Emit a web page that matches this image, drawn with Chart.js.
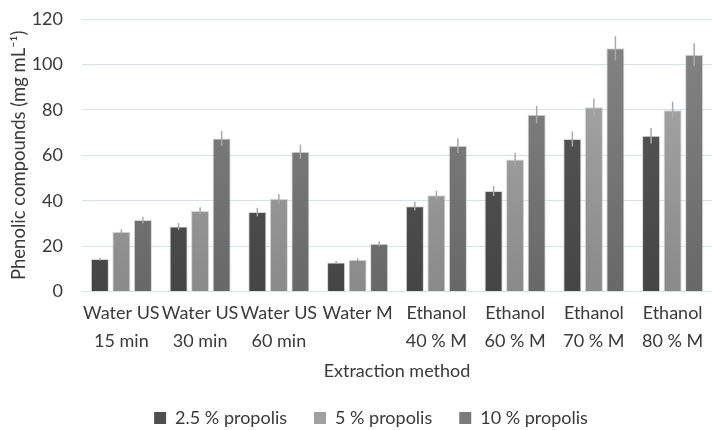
<!DOCTYPE html>
<html>
<head>
<meta charset="utf-8">
<script src="https://cdn.jsdelivr.net/npm/chart.js@4"></script>
<style>
  html, body { margin: 0; padding: 0; background: #fff; }
  #wrap { width: 712px; height: 430px; }
</style>
</head>
<body>
<div id="wrap"><canvas id="phenolChart"></canvas></div>
<script>
// values
const methods = [
  ['Water US', '15 min'], ['Water US', '30 min'], ['Water US', '60 min'], ['Water M'],
  ['Ethanol', '40 % M'], ['Ethanol', '60 % M'], ['Ethanol', '70 % M'], ['Ethanol', '80 % M']
];
const seriesNames = ['2.5 % propolis', '5 % propolis', '10 % propolis'];
const propolis25 = [14.3, 28.7, 35.0, 12.8, 37.6, 44.3, 67.2, 68.6];
const propolis5 = [26.4, 35.5, 40.9, 14.0, 42.4, 58.2, 81.1, 79.8];
const propolis10 = [31.5, 67.4, 61.6, 21.1, 64.2, 77.9, 107.1, 104.3];
const err25 = [0.6, 1.5, 1.9, 0.7, 1.9, 2.2, 3.3, 3.4];
const err5 = [1.1, 1.6, 2.1, 0.7, 2.1, 2.9, 3.8, 3.8];
const err10 = [1.5, 3.2, 3.1, 1.1, 3.2, 3.8, 5.3, 5.0];
const yTicks = [0, 20, 40, 60, 80, 100, 120];

const FONT = 'Lato, "Open Sans", sans-serif';
const TEXT = '#3a3a3a';

// vertical gradient like the office-style bars
function shade(top, bottom) {
  return ctx => {
    const area = ctx.chart.chartArea;
    if (!area) return bottom;
    const g = ctx.chart.ctx.createLinearGradient(0, area.top, 0, area.bottom);
    g.addColorStop(0, top);
    g.addColorStop(1, bottom);
    return g;
  };
}

const errorBars = {
  id: 'errorBars',
  afterDatasetsDraw(chart) {
    const c = chart.ctx;
    const y = chart.scales.y;
    c.save();
    c.strokeStyle = '#a9a9a9';
    c.lineWidth = 1.5;
    chart.data.datasets.forEach((ds, i) => {
      const meta = chart.getDatasetMeta(i);
      meta.data.forEach((bar, j) => {
        const v = ds.data[j], e = ds.errors[j];
        c.beginPath();
        c.moveTo(bar.x, y.getPixelForValue(v - e));
        c.lineTo(bar.x, y.getPixelForValue(v + e));
        c.stroke();
      });
    });
    c.restore();
  }
};

// legend sits a little right of the canvas centre in the original
const legendShift = {
  id: 'legendShift',
  afterLayout(chart) {
    if (chart.legend) {
      chart.legend.left += 15;
      chart.legend.right += 15;
    }
  }
};

new Chart(document.getElementById('phenolChart'), {
  type: 'bar',
  data: {
    labels: methods,
    datasets: [
      { label: seriesNames[0], data: propolis25, errors: err25,
        backgroundColor: shade('#5a5a5a', '#454545') },
      { label: seriesNames[1], data: propolis5, errors: err5,
        backgroundColor: shade('#ababab', '#8a8a8a') },
      { label: seriesNames[2], data: propolis10, errors: err10,
        backgroundColor: shade('#858585', '#686868') }
    ]
  },
  options: {
    responsive: true,
    maintainAspectRatio: false,
    animation: false,
    layout: { padding: { top: 0, right: 0, bottom: -7, left: 0 } },
    datasets: {
      bar: {
        categoryPercentage: 0.82,
        barPercentage: 0.84,
        borderColor: 'rgba(200,200,200,0.7)',
        borderWidth: 1
      }
    },
    plugins: {
      legend: {
        position: 'bottom',
        labels: {
          color: TEXT,
          font: { family: FONT, size: 18 },
          boxWidth: 12,
          boxHeight: 12,
          padding: 27,
          generateLabels(chart) {
            const solid = ['#4f4f4f', '#a0a0a0', '#7a7a7a'];
            return chart.data.datasets.map((ds, i) => ({
              text: ds.label, fillStyle: solid[i], strokeStyle: solid[i],
              lineWidth: 0, datasetIndex: i, fontColor: TEXT
            }));
          }
        }
      },
      tooltip: { enabled: false }
    },
    scales: {
      x: {
        grid: { display: false, drawTicks: false },
        border: { color: '#d6e0ee' },
        ticks: {
          color: TEXT,
          font: { family: FONT, size: 18, lineHeight: 1.55 },
          padding: 8,
          maxRotation: 0,
          autoSkip: false
        },
        title: {
          display: true,
          text: 'Extraction method',
          color: TEXT,
          font: { family: FONT, size: 18 },
          padding: { top: -3, bottom: 0 }
        }
      },
      y: {
        min: 0,
        max: 120,
        afterBuildTicks: axis => { axis.ticks = yTicks.map(v => ({ value: v })); },
        afterFit: axis => { axis.width = 82; axis.paddingTop = 19; },
        grid: { color: '#d6e0ee', drawTicks: false },
        border: { display: false },
        ticks: {
          color: TEXT,
          font: { family: FONT, size: 18 },
          padding: 19
        },
        title: {
          display: true,
          text: 'Phenolic compounds (mg mL⁻¹)',
          color: TEXT,
          font: { family: FONT, size: 18.5 },
          padding: { top: 8, bottom: 0 }
        }
      }
    }
  },
  plugins: [errorBars, legendShift]
});
</script>
</body>
</html>
